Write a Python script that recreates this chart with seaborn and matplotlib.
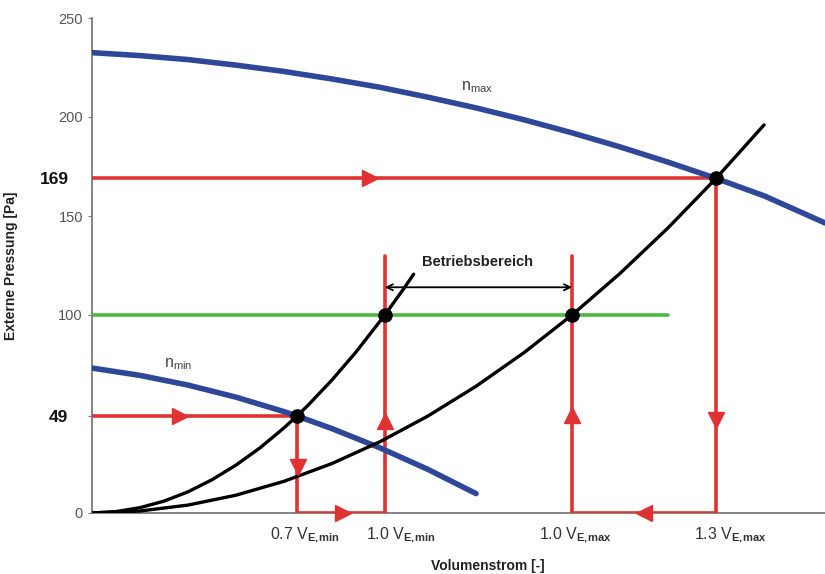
import numpy as np
import pandas as pd
import matplotlib
matplotlib.use("Agg")
import matplotlib.pyplot as plt
import seaborn as sns

# --- data (x: flow in units of V_E,max, y: Pa) ---
v_min = 0.61   # 1.0 V_E,min
v_max = 1.0    # 1.0 V_E,max

nmax_x = [0, 0.1, 0.2, 0.3, 0.4, 0.5, 0.6, 0.7, 0.8, 0.9, 1.0, 1.1, 1.2, 1.3, 1.4, 1.527]
nmax_y = [232.5, 231, 229, 226.2, 223, 219.2, 215, 210, 204.6, 198.6, 192, 184.9,
          177.2, 169, 160.2, 146.5]

nmin_x = [0, 0.1, 0.2, 0.3, 0.4, 0.427, 0.5, 0.6, 0.7, 0.8]
nmin_y = [73.2, 69.5, 64.6, 58.5, 51.2, 49, 42.6, 32.9, 22, 9.8]

sysA_x = [0, 0.05, 0.1, 0.15, 0.2, 0.25, 0.3, 0.35, 0.4, 0.427, 0.45, 0.5, 0.55,
          0.61, 0.65, 0.67]
sysA_y = [0, 0.7, 2.7, 6.0, 10.7, 16.8, 24.2, 32.9, 43, 49, 54.4, 67.2, 81.3,
          100, 113.5, 120.6]

sysB_x = [0, 0.1, 0.2, 0.3, 0.4, 0.5, 0.6, 0.7, 0.8, 0.9, 1.0, 1.1, 1.2, 1.3, 1.4]
sysB_y = [0, 1, 4, 9, 16, 25, 36, 49, 64, 81, 100, 121, 144, 169, 196]

op_x = [0.7 * v_min, v_min, v_max, 1.3 * v_max]
op_y = [49, 100, 100, 169]

ytick_vals = [0, 49, 100, 150, 169, 200, 250]
ytick_labels = ["0", "49", "100", "150", "169", "200", "250"]
xlabels = [r"0.7 V$_{\mathbf{E{,}min}}$", r"1.0 V$_{\mathbf{E{,}min}}$",
           r"1.0 V$_{\mathbf{E{,}max}}$", r"1.3 V$_{\mathbf{E{,}max}}$"]

sns.set_style("white")
plt.rcParams["font.family"] = ["Liberation Sans", "DejaVu Sans"]
plt.rcParams["mathtext.fontset"] = "custom"
plt.rcParams["mathtext.rm"] = "Liberation Sans"
plt.rcParams["mathtext.bf"] = "Liberation Sans:bold"

BLUE = "#2e4799"
RED = "#e03232"
GREEN = "#4cb944"
GRID = "#7a7a7a"

fig = plt.figure(figsize=(8.25, 5.74), dpi=100)
ax = fig.add_axes([92 / 825, 1 - 513 / 574, 733 / 825, 495 / 574])

# red guide lines
red_lines = [
    ([0, 1.3 * v_max], [169, 169]),
    ([1.3 * v_max, 1.3 * v_max], [169, 0]),
    ([1.3 * v_max, v_max], [0, 0]),
    ([v_max, v_max], [0, 130]),
    ([0, 0.7 * v_min], [49, 49]),
    ([0.7 * v_min, 0.7 * v_min], [49, 0]),
    ([0.7 * v_min, v_min], [0, 0]),
    ([v_min, v_min], [0, 130]),
]
for xs, ys in red_lines:
    sns.lineplot(x=xs, y=ys, ax=ax, color=RED, lw=2.6, sort=False,
                 estimator=None, zorder=3)

# green line at 100 Pa
sns.lineplot(x=[0, 1.2], y=[100, 100], ax=ax, color=GREEN, lw=2.6,
             estimator=None, zorder=3)

# fan curves
sns.lineplot(x=nmax_x, y=nmax_y, ax=ax, color=BLUE, lw=4, estimator=None, zorder=4)
sns.lineplot(x=nmin_x, y=nmin_y, ax=ax, color=BLUE, lw=4, estimator=None, zorder=4)

# system curves
sns.lineplot(x=sysA_x, y=sysA_y, ax=ax, color="black", lw=2.4, estimator=None, zorder=5)
sns.lineplot(x=sysB_x, y=sysB_y, ax=ax, color="black", lw=2.4, estimator=None, zorder=5)

# arrow heads on the red lines
arrows = [
    (0.58, 169, ">"), (1.3, 47, "v"), (1.15, 0, "<"), (1.0, 49.5, "^"),
    (0.183, 49, ">"), (0.429, 23, "v"), (0.523, 0, ">"), (0.61, 46.5, "^"),
]
for ax_x, ax_y, m in arrows:
    ax.plot(ax_x, ax_y, marker=m, color=RED, markersize=11.5, ls="none",
            zorder=6, clip_on=False)

# operating points
sns.scatterplot(x=op_x, y=op_y, ax=ax, color="black", s=110, zorder=7,
                edgecolor="black", linewidth=0)

# operating range
ax.annotate("", xy=(v_min, 114), xytext=(v_max, 114),
            arrowprops=dict(arrowstyle="<->", color="black", lw=1.3,
                            mutation_scale=11, shrinkA=0, shrinkB=0), zorder=8)
ax.text(0.803, 127, "Betriebsbereich", ha="center", va="center",
        fontsize=10.5, fontweight="bold", color="#222222")

ax.text(0.803, 211, r"n$_{\mathrm{max}}$", fontsize=11.5, color="#444444",
        ha="center", va="bottom")
ax.text(0.18, 71, r"n$_{\mathrm{min}}$", fontsize=11.5, color="#444444",
        ha="center", va="bottom")

for xpos, lbl in zip([0.442, 0.642, 1.006, 1.329], xlabels):
    ax.text(xpos, -12.8, lbl, ha="center", va="baseline", fontsize=11.5,
            color="#333333", clip_on=False)

ax.set_xlim(0, 1.527)
ax.set_ylim(0, 250)
ax.set_xticks([])
ax.set_yticks(ytick_vals)
ax.set_yticklabels(ytick_labels)
ax.tick_params(axis="y", length=3, color=GRID, labelsize=10.5,
               labelcolor="#555555", direction="out", left=True)
for tick, val in zip(ax.yaxis.get_major_ticks(), ytick_vals):
    if val in (49, 169):
        tick.label1.set_fontweight("bold")
        tick.label1.set_fontsize(12.5)
        tick.label1.set_color("#111111")
        tick.set_pad(14)
        tick.tick1line.set_visible(val == 49)

for side in ("top", "right"):
    ax.spines[side].set_visible(False)
for side in ("left", "bottom"):
    ax.spines[side].set_color(GRID)
    ax.spines[side].set_linewidth(1.3)

ax.set_ylabel("Externe Pressung [Pa]", fontsize=10, fontweight="bold",
              color="#222222")
ax.yaxis.set_label_coords(-(92 - 18) / 733, 0.5)
ax.set_xlabel("Volumenstrom [-]", fontsize=10, fontweight="bold",
              color="#222222")
ax.xaxis.set_label_coords((488 - 92) / 733, -(559 - 513) / 495)

fig.savefig("out.png", dpi=100)
